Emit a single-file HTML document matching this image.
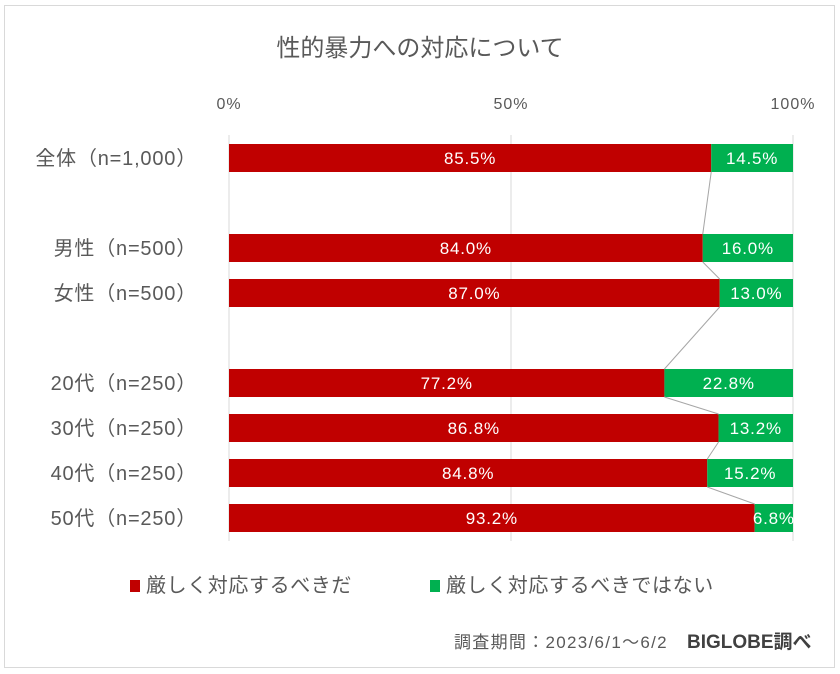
<!DOCTYPE html>
<html><head><meta charset="utf-8"><style>
body{margin:0;background:#fff;}
svg{display:block;font-family:"Liberation Sans","Noto Sans CJK JP",sans-serif;}
</style></head><body>
<svg id="c" width="840" height="674">
<rect x="4.5" y="5.5" width="830" height="662" fill="#fff" stroke="#d9d9d9"/>
<text x="420" y="56" text-anchor="middle" font-size="24" fill="#595959">性的暴力への対応について</text>
<g id="grid"></g><g id="bars"></g><g id="lines"></g><g id="labels"></g>
<rect x="130" y="580" width="10" height="12" fill="#c00000"/>
<text x="146" y="592" font-size="20" letter-spacing="0.6" fill="#595959">厳しく対応するべきだ</text>
<rect x="430" y="580" width="10" height="12" fill="#00b050"/>
<text x="446" y="592" font-size="20" letter-spacing="0.6" fill="#595959">厳しく対応するべきではない</text>
<text x="454" y="648" font-size="17" letter-spacing="1.3" fill="#595959">調査期間：2023/6/1～6/2</text>
<text x="687" y="648" font-size="19" font-weight="bold" fill="#404040">BIGLOBE調べ</text>
</svg>
<script>
const categories=["全体（n=1,000）","","男性（n=500）","女性（n=500）","","20代（n=250）","30代（n=250）","40代（n=250）","50代（n=250）"];
const strictVals=[85.5,null,84.0,87.0,null,77.2,86.8,84.8,93.2];
const notStrictVals=[14.5,null,16.0,13.0,null,22.8,13.2,15.2,6.8];
const ticks=[0,50,100];
const NS="http://www.w3.org/2000/svg";
const x=v=>229+v*(793-229)/100;
const y=i=>158+i*45;
const BH=28;
function mk(t,a,p){const e=document.createElementNS(NS,t);for(const k in a)e.setAttribute(k,a[k]);p.appendChild(e);return e;}
const G=document.getElementById('grid'),B=document.getElementById('bars'),L=document.getElementById('lines'),T=document.getElementById('labels');
ticks.forEach(t=>{
 const l=mk('line',{x1:x(t),x2:x(t),y1:135,y2:541,stroke:'#d9d9d9'},G);
 
 
 const tx=mk('text',{x:x(t),y:109,'text-anchor':'middle','font-size':16,'letter-spacing':1,fill:'#595959'},G);
 tx.textContent=t+'%';
 
 
});
let prev=null;
categories.forEach((c,i)=>{
 if(strictVals[i]==null)return;
 const s=strictVals[i],n=notStrictVals[i],yc=y(i);
 const r=mk('rect',{x:x(0),y:yc-BH/2,width:x(s)-x(0),height:BH,fill:'#c00000'},B);
 
 
 const g=mk('rect',{x:x(s),y:yc-BH/2,width:x(s+n)-x(s),height:BH,fill:'#00b050'},B);
 
 
 const t1=mk('text',{x:(x(0)+x(s))/2,y:yc+6,'text-anchor':'middle','font-size':17,'letter-spacing':0.8,fill:'#fff'},T);
 t1.textContent=s.toFixed(1)+'%';
 
 
 const t2=mk('text',{x:(x(s)+x(s+n))/2,y:yc+6,'text-anchor':'middle','font-size':17,'letter-spacing':0.8,fill:'#fff'},T);
 t2.textContent=n.toFixed(1)+'%';
 
 
 const cl=mk('text',{x:197,y:yc+7,'text-anchor':'end','font-size':20,'letter-spacing':0.8,fill:'#595959'},T);
 cl.textContent=c;
 
 
 if(prev){
  const ln=mk('line',{x1:x(prev.s),y1:prev.y+BH/2,x2:x(s),y2:yc-BH/2,stroke:'#a6a6a6'},L);
  
  
 }
 prev={s:s,y:yc};
});
</script>
</body></html>
